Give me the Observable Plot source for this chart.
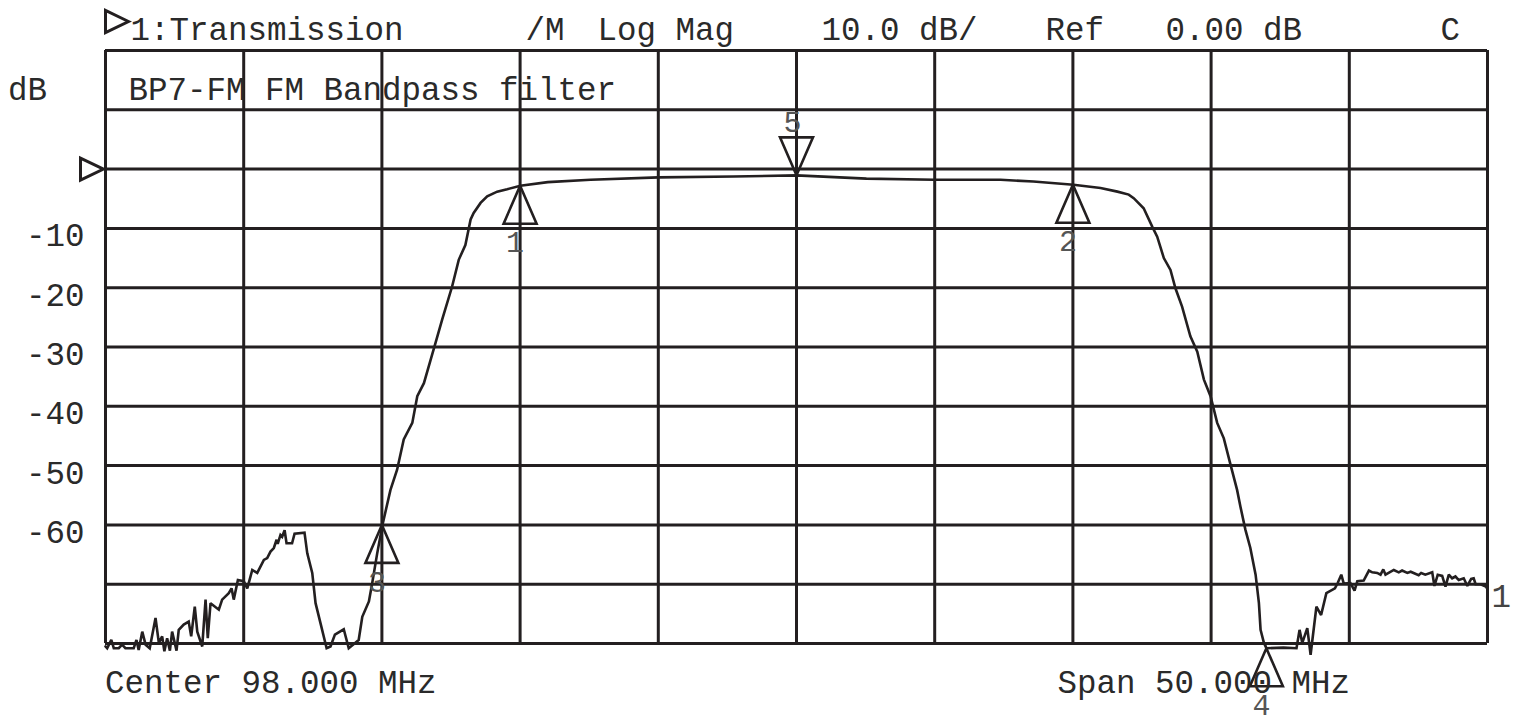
<!DOCTYPE html>
<html>
<head>
<meta charset="utf-8">
<script src="https://cdn.jsdelivr.net/npm/d3@7"></script>
<script src="https://cdn.jsdelivr.net/npm/@observablehq/plot@0.6"></script>
<style>
  html, body { margin: 0; padding: 0; background: #ffffff; }
  #chart svg { display: block; }
</style>
</head>
<body>
<div id="chart"></div>
<script>
// ---------- data ----------
// Trace 1: Transmission, frequency (MHz) and magnitude (dB)
const traceFreq = [
  73.00, 73.06, 73.21, 73.30, 73.48, 73.60, 73.72, 74.02, 74.12, 74.20,
  74.33, 74.45, 74.60, 74.81, 74.93, 75.05, 75.13, 75.23, 75.33, 75.41,
  75.57, 75.65, 75.83, 76.01, 76.10, 76.23, 76.32, 76.50, 76.62, 76.70,
  76.80, 77.10, 77.22, 77.46, 77.56, 77.64, 77.79, 78.00, 78.13, 78.31,
  78.49, 78.73, 78.85, 78.97, 79.09, 79.19, 79.23, 79.33, 79.39, 79.48,
  79.55, 79.75, 79.84, 80.20, 80.30, 80.48, 80.60, 80.78, 81.00, 81.14,
  81.30, 81.62, 81.80, 82.16, 82.29, 82.53, 82.65, 82.83, 83.02, 83.31,
  83.55, 83.79, 84.10, 84.28, 84.52, 84.76, 84.94, 85.18, 85.54, 85.78,
  86.02, 86.21, 86.32, 86.57, 86.81, 87.17, 87.53, 88.01, 89.00, 90.55,
  93.01, 95.72, 98.00, 100.53, 102.99, 105.38, 106.57, 108.02, 109.00, 109.61,
  110.02, 110.20, 110.56, 110.87, 111.05, 111.29, 111.53, 111.71, 111.95, 112.25,
  112.50, 112.74, 112.98, 113.22, 113.46, 113.70, 113.94, 114.06, 114.24, 114.42,
  114.61, 114.73, 114.79, 114.91, 115.00, 115.62, 116.09, 116.20, 116.30, 116.48,
  116.60, 116.81, 116.98, 117.17, 117.48, 117.58, 117.71, 117.80, 118.04, 118.19,
  118.29, 118.52, 118.71, 118.83, 119.01, 119.13, 119.23, 119.31, 119.61, 119.79,
  119.91, 120.10, 120.22, 120.51, 120.60, 120.75, 121.00, 121.08, 121.20, 121.36,
  121.48, 121.60, 121.72, 121.84, 121.96, 122.14, 122.27, 122.41, 122.50, 122.57,
  122.75, 122.94, 123.00
];
const traceDb = [
  -80.5, -80.8, -79.4, -80.8, -80.8, -80.2, -80.8, -80.8, -79.4, -81.1,
  -78.0, -80.2, -80.8, -75.7, -79.9, -78.8, -81.3, -79.1, -81.2, -78.0,
  -81.2, -77.7, -76.8, -76.3, -78.8, -73.8, -78.0, -80.5, -72.6, -79.1,
  -73.2, -74.3, -72.6, -71.5, -70.7, -72.6, -69.3, -69.5, -70.7, -67.6,
  -68.1, -65.9, -65.6, -64.5, -63.9, -62.5, -63.2, -61.7, -62.0, -60.9,
  -63.1, -63.1, -61.5, -61.3, -64.8, -68.1, -73.2, -76.6, -80.8, -80.5,
  -78.5, -77.6, -80.8, -79.4, -75.5, -72.9, -69.8, -64.8, -60.0, -54.1,
  -50.7, -45.6, -42.8, -38.3, -36.1, -32.2, -29.3, -25.4, -19.8, -15.3,
  -12.8, -8.5, -7.4, -5.7, -4.6, -3.8, -3.4, -2.8, -2.2, -1.8,
  -1.4, -1.25, -1.05, -1.6, -1.8, -1.8, -2.1, -2.65, -3.2, -3.8,
  -4.3, -4.9, -6.6, -9.7, -11.4, -15.0, -17.0, -20.1, -23.2, -28.2,
  -30.8, -35.5, -38.3, -42.8, -45.4, -49.8, -54.1, -56.9, -60.8, -63.9,
  -68.4, -73.2, -77.7, -79.9, -80.8, -80.7, -80.8, -77.7, -79.9, -77.4,
  -81.9, -73.8, -75.2, -71.5, -70.7, -69.8, -68.4, -69.9, -69.8, -71.1,
  -69.5, -69.4, -67.7, -68.0, -68.1, -68.4, -67.5, -68.4, -67.6, -68.0,
  -67.7, -68.1, -67.9, -68.5, -68.1, -68.4, -68.0, -70.3, -68.4, -68.6,
  -70.4, -68.4, -69.0, -68.7, -69.3, -69.0, -70.3, -69.1, -69.0, -70.0,
  -70.0, -70.4, -70.8
];

// Markers
const markerNum  = ["1", "2", "3", "4", "5"];
const markerFreq = [88.0, 108.0, 83.0, 115.0, 98.0];
const markerDb   = [-2.8, -2.65, -60.0, -80.8, -1.05];
const markerDir  = ["up", "up", "up", "up", "down"];

// Grid (10 divisions each way) and y tick labels
const freqGrid = [73, 78, 83, 88, 93, 98, 103, 108, 113, 118, 123];
const dbGrid   = [20, 10, 0, -10, -20, -30, -40, -50, -60, -70, -80];
const dbLabels = [-10, -20, -30, -40, -50, -60];
const refLevel = [0];

// Texts
const headerTexts = ["1:Transmission", "/M", "Log Mag", "10.0 dB/", "Ref", "0.00 dB", "C"];
const unitText    = "dB";
const titleText   = "BP7-FM FM Bandpass filter";
const centerText  = "Center 98.000 MHz";
const spanText    = "Span 50.000 MHz";
const traceName   = "1";

// ---------- build ----------
const trace = traceFreq.map((f, i) => ({f, db: traceDb[i]}));
const markers = markerNum.map((n, i) => ({n, f: markerFreq[i], db: markerDb[i], dir: markerDir[i]}));

const INK = "#231f20";
const TXT = "#2a2a2a";
const FONT = "'Liberation Mono', 'Courier New', monospace";
const FS = 32.5;

const triUp    = {draw(c) { c.moveTo(0, 0); c.lineTo(16.5, 38); c.lineTo(-16.5, 38); c.closePath(); }};
const triDown  = {draw(c) { c.moveTo(0, 0); c.lineTo(16.5, -38); c.lineTo(-16.5, -38); c.closePath(); }};
const triRight = {draw(c) { c.moveTo(0, 0); c.lineTo(-23, -11); c.lineTo(-23, 11); c.closePath(); }};

const headerDx = [25, 420, 492, 716, 940, 1060, 1335];
const txt = {fontSize: FS, fontFamily: FONT, fill: TXT, textAnchor: "start", lineAnchor: "middle"};
const mtxt = {fontSize: 30, fontFamily: FONT, fill: "#555", lineAnchor: "middle"};

const chart = Plot.plot({
  width: 1520,
  height: 717,
  marginLeft: 105,
  marginRight: 33,
  marginTop: 50,
  marginBottom: 74,
  x: {domain: [73, 123], axis: null},
  y: {domain: [-80, 20], axis: null},
  style: {background: "#ffffff", fontFamily: FONT, fontSize: FS + "px", color: INK},
  marks: [
    Plot.ruleX(freqGrid, {x: d => d, stroke: INK, strokeWidth: 3}),
    Plot.ruleY(dbGrid, {y: d => d, stroke: INK, strokeWidth: 3}),
    Plot.line(trace, {x: "f", y: "db", stroke: INK, strokeWidth: 2.6, strokeLinejoin: "miter", strokeMiterlimit: 2}),
    // marker triangles
    Plot.dot(markers.filter(m => m.dir === "up"), {x: "f", y: "db", symbol: triUp, stroke: INK, strokeWidth: 2.6, fill: "none"}),
    Plot.dot(markers.filter(m => m.dir === "down"), {x: "f", y: "db", symbol: triDown, stroke: INK, strokeWidth: 2.6, fill: "none"}),
    Plot.text(markers.filter(m => m.dir === "up"), {x: "f", y: "db", text: "n", dx: -5, dy: 57, ...mtxt}),
    Plot.text(markers.filter(m => m.dir === "down"), {x: "f", y: "db", text: "n", dx: -4, dy: -53, ...mtxt}),
    // reference level pointer
    Plot.dot(refLevel, {y: d => d, frameAnchor: "left", dx: -2, symbol: triRight, stroke: INK, strokeWidth: 3, fill: "none"}),
    Plot.dot([0], {frameAnchor: "top-left", dx: 23, dy: -29, symbol: triRight, stroke: INK, strokeWidth: 3, fill: "none"}),
    // y labels
    Plot.text(dbLabels, {y: d => d, text: d => String(d).replace("\u2212", "-"), frameAnchor: "left", textAnchor: "end", lineAnchor: "middle", dx: -21, dy: 7.5, fontSize: FS, fontFamily: FONT, fill: TXT}),
    Plot.text([unitText], {frameAnchor: "top-left", dx: -97.5, dy: 39.5, ...txt}),
    Plot.text([titleText], {frameAnchor: "top-left", dx: 23, dy: 39.5, ...txt}),
    ...headerTexts.map((t, i) => Plot.text([t], {frameAnchor: "top-left", dx: headerDx[i], dy: -20.5, ...txt})),
    Plot.text([centerText], {frameAnchor: "bottom-left", dx: -0.5, dy: 39.5, ...txt}),
    Plot.text([spanText], {frameAnchor: "bottom-left", dx: 952, dy: 39.5, ...txt}),
    Plot.text([traceDb[traceDb.length - 1]], {x: () => traceFreq[traceFreq.length - 1], y: d => d, text: () => traceName, dx: 4, dy: 8, ...txt, fill: "#444"})
  ]
});
document.getElementById("chart").appendChild(chart);
</script>
</body>
</html>
